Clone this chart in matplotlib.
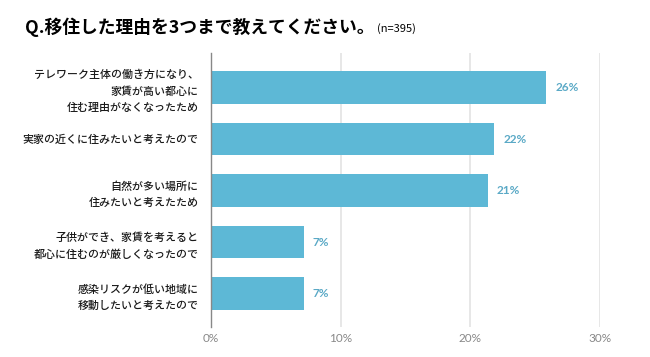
import matplotlib
matplotlib.use("Agg")
import matplotlib.pyplot as plt

plt.rcParams['font.family'] = ['Noto Sans CJK JP', 'DejaVu Sans']

TITLE = "Q.移住した理由を3つまで教えてください。"
N_NOTE = "(n=395)"
reasons = [
    "テレワーク主体の働き方になり、\n家賃が高い都心に\n住む理由がなくなったため",
    "実家の近くに住みたいと考えたので",
    "自然が多い場所に\n住みたいと考えたため",
    "子供ができ、家賃を考えると\n都心に住むのが厳しくなったので",
    "感染リスクが低い地域に\n移動したいと考えたので",
]
shares = [25.85, 21.85, 21.33, 7.15, 7.15]
share_labels = ["26%", "22%", "21%", "7%", "7%"]
ticks = [0, 10, 20, 30]

BAR = "#5db8d6"
VALUE = "#5aa9c6"

fig = plt.figure(figsize=(6.5, 3.57), dpi=100)
ax = fig.add_axes([211 / 650, 1 - 327 / 357, (600 - 211) / 650, (327 - 53) / 357])

pos = list(range(len(reasons)))
ax.barh(pos, shares, height=0.63, color=BAR, zorder=3)
for y, v, lab in zip(pos, shares, share_labels):
    ax.text(v + 0.7, y, lab, color=VALUE, fontsize=8.5, va="center", ha="left",
            family=["Lato", "DejaVu Sans"], fontweight="bold")

ax.set_xlim(0, 30)
ax.set_ylim(4.65, -0.67)
ax.set_xticks(ticks)
ax.set_xticklabels([f"{t}%" for t in ticks], color="#888888", fontsize=8.5,
                   family=["Lato", "DejaVu Sans"])
ax.tick_params(axis="x", length=0, pad=4)
ax.set_yticks(pos)
ax.set_yticklabels(reasons, fontsize=7.9, color="#1a1a1a", linespacing=1.7,
                   fontweight="medium")
ax.tick_params(axis="y", length=0, pad=9)
ax.grid(axis="x", color="#e3e3e3", lw=1.2, zorder=0)
for s in ["top", "right", "bottom"]:
    ax.spines[s].set_visible(False)
ax.spines["left"].set_color("#888888")
ax.spines["left"].set_linewidth(1.0)
ax.spines["left"].set_zorder(4)

fig.text(25 / 650, 1 - 27 / 357, TITLE, fontsize=12.8, fontweight="bold", va="center", ha="left")
fig.text(377 / 650, 1 - 29 / 357, N_NOTE, fontsize=8, va="center", ha="left")

fig.savefig("out.png", dpi=100, facecolor="white")
